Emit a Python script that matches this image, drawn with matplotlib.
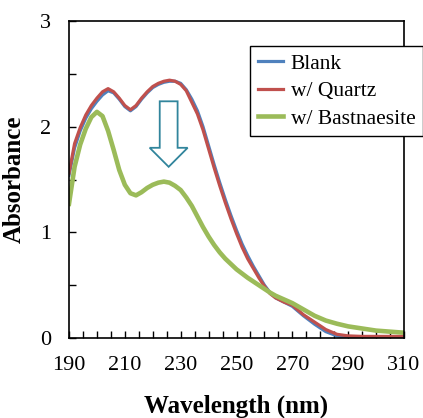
import matplotlib
matplotlib.use("Agg")
import matplotlib.pyplot as plt
import matplotlib.patches as mpatches
from matplotlib.ticker import MultipleLocator, FixedLocator

plt.rcParams['font.family'] = ['Liberation Serif', 'DejaVu Serif']

# longueurs d'onde (nm) et absorbances
wavelength = [190, 192, 194, 196, 198, 200, 202, 204, 206, 208, 210, 212, 214, 216,
              218, 220, 222, 224, 226, 228, 230, 232, 234, 236, 238, 240, 242, 244,
              246, 248, 250, 252, 254, 256, 258, 260, 262, 264, 267, 270, 274, 278,
              282, 286, 290, 295, 300, 305, 310]

blank = [1.54, 1.80, 1.96, 2.08, 2.17, 2.24, 2.30, 2.34, 2.32, 2.26, 2.19, 2.15, 2.19, 2.26,
         2.32, 2.37, 2.40, 2.42, 2.43, 2.43, 2.41, 2.35, 2.26, 2.15, 2.00, 1.82, 1.64, 1.47,
         1.31, 1.16, 1.02, 0.89, 0.78, 0.68, 0.59, 0.50, 0.43, 0.38, 0.34, 0.30, 0.21, 0.13,
         0.06, 0.02, 0.005, 0.0, 0.0, 0.0, 0.0]

quartz = [1.56, 1.84, 1.99, 2.11, 2.20, 2.27, 2.33, 2.36, 2.33, 2.27, 2.20, 2.16, 2.20, 2.27,
          2.33, 2.38, 2.41, 2.43, 2.44, 2.43, 2.40, 2.34, 2.23, 2.12, 1.97, 1.79, 1.61, 1.44,
          1.28, 1.13, 0.99, 0.86, 0.75, 0.66, 0.57, 0.49, 0.42, 0.38, 0.34, 0.31, 0.22, 0.15,
          0.08, 0.035, 0.02, 0.015, 0.015, 0.015, 0.015]

bastnaesite = [1.27, 1.62, 1.83, 1.98, 2.09, 2.14, 2.10, 1.96, 1.78, 1.59, 1.45, 1.37, 1.35, 1.38,
               1.42, 1.45, 1.47, 1.48, 1.47, 1.44, 1.40, 1.33, 1.25, 1.15, 1.05, 0.96, 0.88, 0.81,
               0.75, 0.70, 0.65, 0.61, 0.57, 0.535, 0.50, 0.465, 0.43, 0.40, 0.365, 0.33, 0.27, 0.21,
               0.165, 0.135, 0.11, 0.09, 0.07, 0.06, 0.05]

fig = plt.figure(figsize=(4.23, 4.18), dpi=100)
ax = fig.add_axes([69 / 423, 80 / 418, (404 - 69) / 423, (338 - 21) / 418])

ax.plot(wavelength, blank, color='#4F81BD', lw=2.3, label='Blank')
ax.plot(wavelength, quartz, color='#C0504D', lw=2.3, label='w/ Quartz')
ax.plot(wavelength, bastnaesite, color='#9BBB59', lw=3.3, label='w/ Bastnaesite')

# fleche creuse
fleche = mpatches.FancyArrow(225.7, 2.24, 0, -0.62, width=6.4, head_width=13.6,
                             head_length=0.18, length_includes_head=True,
                             fill=False, edgecolor='#31859C', lw=1.3)
ax.add_patch(fleche)

ax.set_xlim(190, 310)
ax.set_ylim(0, 3)
ax.xaxis.set_major_locator(FixedLocator([190, 210, 230, 250, 270, 290, 310]))
ax.xaxis.set_minor_locator(MultipleLocator(5))
ax.yaxis.set_major_locator(MultipleLocator(1))
ax.yaxis.set_minor_locator(MultipleLocator(0.5))
ax.tick_params(which='both', direction='in', length=5, width=1, top=False, right=False,
               labelsize=16, pad=13)
for s in ax.spines.values():
    s.set_linewidth(1.2)

ax.set_xlabel('Wavelength (nm)', fontsize=18, fontweight='bold', labelpad=14)
ax.set_ylabel('Absorbance', fontsize=18, fontweight='bold', labelpad=10)

leg = ax.legend(loc='upper left', bbox_to_anchor=(250 / 423, 1 - 46 / 418),
                bbox_transform=fig.transFigure, borderaxespad=0, fontsize=15.5,
                handlelength=1.2, handletextpad=0.35, labelspacing=0.35,
                fancybox=False, framealpha=1, edgecolor='black', borderpad=0.35)
leg.get_frame().set_linewidth(1.0)

plt.savefig('out.png', dpi=100)
plt.close()
